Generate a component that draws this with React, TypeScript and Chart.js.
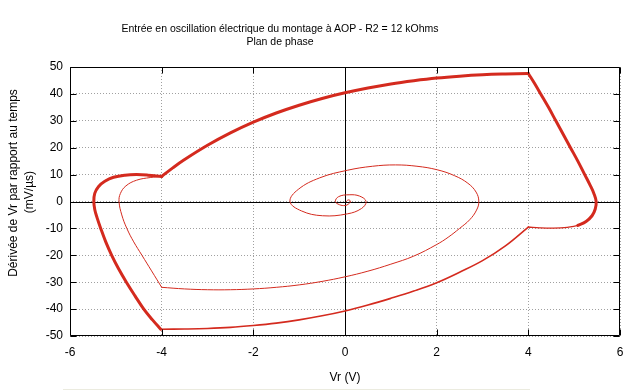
import React, { useEffect, useRef } from "react";
import { Chart, registerables } from "chart.js";

Chart.register(...registerables);

const TITLE_LINES = ["Entrée en oscillation électrique du montage à AOP - R2 = 12 kOhms", "Plan de phase"];
const X_LABEL = "Vr (V)";
const Y_LABEL_LINES = ["Dérivée de Vr par rapport au temps", "(mV/µs)"];

const X_MIN = -6, X_MAX = 6, X_STEP = 2;
const Y_MIN = -50, Y_MAX = 50, Y_STEP = 10;

// transient spiral (thin), from the centre outward, clockwise
const spiralX = [0.03, 0.07, 0.12, 0.08, 0.0, -0.12, -0.21, -0.14, 0.09, 0.32, 0.46, 0.36, 0.05, -0.49, -0.95, -1.2, -1.02, -0.55, 0.05, 0.6, 1.1, 1.57, 2.01, 2.39, 2.68, 2.86, 2.92, 2.87, 2.72, 2.5, 2.25, 2.0, 1.5, 1.0, 0.5, 0.0, -0.5, -1.0, -1.5, -2.0, -2.5, -3.0, -3.5, -4.0];
const spiralY = [0.0, 0.6, 0.1, -0.9, -1.5, -1.2, 0.0, 1.8, 2.5, 2.0, 0.0, -2.6, -4.6, -5.3, -3.5, 0.0, 4.5, 8.8, 11.6, 13.1, 13.6, 13.1, 11.8, 9.6, 6.8, 3.5, 0.0, -3.2, -6.8, -10.0, -13.3, -16.0, -20.3, -23.3, -25.9, -28.0, -29.7, -31.0, -31.9, -32.5, -32.8, -32.8, -32.5, -31.9];

// transient left branch (thin)
const innerLeftX = [-4.0, -4.22, -4.43, -4.61, -4.76, -4.87, -4.93, -4.9, -4.78, -4.55, -4.25, -4.0];
const innerLeftY = [-31.9, -25.8, -20, -15, -10, -5, 0, 3, 5.8, 7.9, 8.9, 9.3];

// limit cycle: top arc (thick)
const topX = [-4, -3.75, -3.5, -3, -2.5, -2, -1.5, -1, -0.5, 0, 0.5, 1, 1.5, 2, 2.5, 3, 3.5, 4];
const topY = [9.3, 12.6, 15.6, 20.9, 25.5, 29.5, 32.9, 35.8, 38.3, 40.4, 42.2, 43.7, 44.9, 45.9, 46.6, 47.1, 47.4, 47.6];

// limit cycle: right branch (thick)
const rightX = [4.0, 4.14, 4.27, 4.44, 4.6, 4.76, 4.92, 5.08, 5.23, 5.35, 5.43, 5.48, 5.46, 5.39, 5.26, 5.08];
const rightY = [47.6, 43.8, 40, 35, 30, 25, 20, 15, 10, 6, 3, 0, -2.8, -5.3, -7.4, -8.9];

// limit cycle: right corner tail (thinner)
const rightTailX = [5.26, 5.08, 4.85, 4.55, 4.25, 4.0];
const rightTailY = [-7.4, -8.9, -9.6, -9.9, -9.8, -9.5];

// limit cycle: bottom arc (medium)
const bottomX = [4, 3.5, 3, 2.5, 2, 1.5, 1, 0.5, 0, -0.5, -1, -1.5, -2, -2.5, -3, -3.5, -4];
const bottomY = [-9.5, -16.5, -22.0, -26.3, -30.2, -33.3, -36.0, -38.5, -40.7, -42.5, -44.0, -45.2, -46.1, -46.8, -47.2, -47.4, -47.5];

// limit cycle: left branch (thick)
const leftX = [-4.02, -4.2, -4.39, -4.585, -4.77, -4.94, -5.09, -5.22, -5.33, -5.41, -5.46, -5.48, -5.46, -5.38, -5.24, -5.05, -4.8, -4.55, -4.3, -4.0];
const leftY = [-47.5, -44, -40, -35, -30, -25, -20, -15, -10, -6, -3, 0, 3, 5.5, 7.5, 9.0, 9.8, 10.0, 9.8, 9.3];

const RED = "#d42a1e";
const TICK_FONT = "'Liberation Sans', Arial, sans-serif";

function pts(xs: number[], ys: number[]) {
  return xs.map((x, i) => ({ x, y: ys[i] }));
}

function ds(xs: number[], ys: number[], width: number) {
  return {
    data: pts(xs, ys),
    showLine: true,
    borderColor: RED,
    backgroundColor: RED,
    borderWidth: width,
    borderJoinStyle: "round",
    borderCapStyle: "round",
    pointRadius: 0,
    tension: 0.4,
    fill: false,
  };
}

const framePlugin = {
  id: "gnuframe",
  beforeDatasetsDraw(chart: any) {
    const { ctx, chartArea: a, scales } = chart;
    const x0 = Math.round(scales.x.getPixelForValue(0)) + 0.5;
    const y0 = Math.round(scales.y.getPixelForValue(0)) + 0.5;
    ctx.save();
    ctx.strokeStyle = "#000";
    ctx.lineWidth = 1;
    ctx.setLineDash([]);
    ctx.beginPath();
    ctx.moveTo(x0, a.top);
    ctx.lineTo(x0, a.bottom);
    ctx.moveTo(a.left, y0);
    ctx.lineTo(a.right, y0);
    ctx.stroke();
    ctx.restore();
  },
  afterDatasetsDraw(chart: any) {
    const { ctx, chartArea: a, scales } = chart;
    const L = a.left + 0.5, R = a.right - 0.5, T = a.top + 0.5, B = a.bottom - 0.5;
    const len = 6;
    ctx.save();
    ctx.strokeStyle = "#000";
    ctx.lineWidth = 1;
    ctx.setLineDash([]);
    ctx.beginPath();
    ctx.rect(L, T, R - L, B - T);
    for (const t of scales.x.ticks) {
      const px = Math.round(scales.x.getPixelForValue(t.value)) + 0.5;
      ctx.moveTo(px, B);
      ctx.lineTo(px, B - len);
      ctx.moveTo(px, T);
      ctx.lineTo(px, T + len);
    }
    for (const t of scales.y.ticks) {
      const py = Math.round(scales.y.getPixelForValue(t.value)) + 0.5;
      ctx.moveTo(L, py);
      ctx.lineTo(L + len, py);
      ctx.moveTo(R, py);
      ctx.lineTo(R - len, py);
    }
    ctx.stroke();
    ctx.restore();
  },
};

export default function App() {
  const ref = useRef<HTMLCanvasElement | null>(null);

  useEffect(() => {
    if (!ref.current) return;
    const chart = new Chart(ref.current, {
      type: "scatter",
      data: {
        datasets: [
          ds(spiralX, spiralY, 1),
          ds(innerLeftX, innerLeftY, 1),
          ds(bottomX, bottomY, 1.6),
          ds(rightTailX, rightTailY, 1.4),
          ds(topX, topY, 3),
          ds(rightX, rightY, 3),
          ds(leftX, leftY, 3),
        ] as any,
      },
      options: {
        animation: false,
        responsive: false,
        maintainAspectRatio: false,
        devicePixelRatio: 1,
        layout: { padding: { top: 67, right: 20, left: 0, bottom: 0 } },
        plugins: {
          legend: { display: false },
          title: { display: false },
          tooltip: { enabled: false },
        },
        scales: {
          x: {
            type: "linear",
            min: X_MIN,
            max: X_MAX,
            afterFit: (s: any) => {
              s.height = 55;
            },
            ticks: {
              stepSize: X_STEP,
              padding: 9,
              color: "#000",
              maxRotation: 0,
              font: { family: TICK_FONT, size: 12 },
            },
            grid: { color: "#a0a0a0", lineWidth: 1, drawTicks: false },
            border: { display: false, dash: [1, 2] },
          },
          y: {
            type: "linear",
            min: Y_MIN,
            max: Y_MAX,
            afterFit: (s: any) => {
              s.width = 70;
            },
            ticks: {
              stepSize: Y_STEP,
              padding: 7,
              color: "#000",
              font: { family: TICK_FONT, size: 12 },
            },
            grid: { color: "#a0a0a0", lineWidth: 1, drawTicks: false },
            border: { display: false, dash: [1, 2] },
          },
        },
      } as any,
      plugins: [framePlugin],
    });
    return () => chart.destroy();
  }, []);

  const textFont = "'Liberation Sans', Arial, sans-serif";

  return (
    <div style={{ position: "absolute", left: 0, top: 0, width: 640, height: 391, background: "#fff", overflow: "hidden" }}>
      <canvas ref={ref} width={640} height={391} style={{ display: "block", width: 640, height: 391 }} />
      <div style={{ position: "absolute", left: 0, top: 22, width: 560, textAlign: "center", fontFamily: textFont, fontSize: 10.5, lineHeight: "12.5px", color: "#000" }}>
        {TITLE_LINES.map((t) => (
          <div key={t}>{t}</div>
        ))}
      </div>
      <div style={{ position: "absolute", left: 345, top: 377, transform: "translate(-50%, -50%)", fontFamily: textFont, fontSize: 12, whiteSpace: "nowrap", color: "#000" }}>
        {X_LABEL}
      </div>
      <div style={{ position: "absolute", left: 13, top: 183, transform: "translate(-50%, -50%) rotate(-90deg)", fontFamily: textFont, fontSize: 12, whiteSpace: "nowrap", color: "#000" }}>
        {Y_LABEL_LINES[0]}
      </div>
      <div style={{ position: "absolute", left: 29, top: 192, transform: "translate(-50%, -50%) rotate(-90deg)", fontFamily: textFont, fontSize: 12, whiteSpace: "nowrap", color: "#000" }}>
        {Y_LABEL_LINES[1]}
      </div>
      <div style={{ position: "absolute", left: 63, top: 389, width: 467, height: 1, background: "#ebebdf" }} />
    </div>
  );
}
